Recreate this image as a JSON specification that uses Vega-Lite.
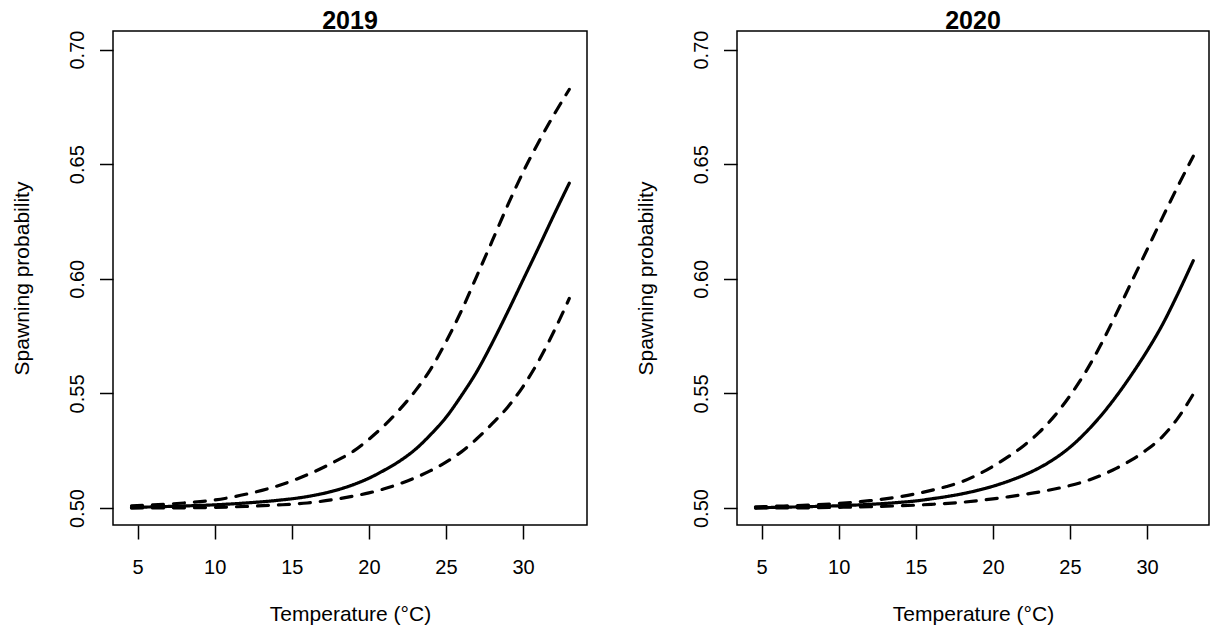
{
  "$schema": "https://vega.github.io/schema/vega-lite/v6.json",
  "background": "white",
  "autosize": {"type": "pad"},
  "padding": {"left": 10, "top": 8, "right": 0, "bottom": 0},
  "bounds": "flush",
  "spacing": 150,
  "config": {
    "font": "Liberation Sans",
    "view": {"stroke": "black", "strokeWidth": 1.5},
    "axis": {
      "grid": false,
      "domain": false,
      "tickColor": "black",
      "tickWidth": 1.5,
      "labelColor": "black",
      "titleColor": "black",
      "labelFont": "Liberation Sans",
      "titleFont": "Liberation Sans",
      "labelFontSize": 20,
      "titleFontSize": 21,
      "titleFontWeight": "normal"
    }
  },
  "datasets": {
    "y2019": [
      {"curve": "fit", "temp": 4.6, "prob": 0.5003},
      {"curve": "fit", "temp": 6, "prob": 0.5005},
      {"curve": "fit", "temp": 8, "prob": 0.5009},
      {"curve": "fit", "temp": 10, "prob": 0.5014},
      {"curve": "fit", "temp": 12, "prob": 0.5022},
      {"curve": "fit", "temp": 14, "prob": 0.5033},
      {"curve": "fit", "temp": 16, "prob": 0.505},
      {"curve": "fit", "temp": 18, "prob": 0.508},
      {"curve": "fit", "temp": 19, "prob": 0.5102},
      {"curve": "fit", "temp": 20, "prob": 0.513},
      {"curve": "fit", "temp": 21, "prob": 0.5165},
      {"curve": "fit", "temp": 22, "prob": 0.5205},
      {"curve": "fit", "temp": 23, "prob": 0.5255},
      {"curve": "fit", "temp": 24, "prob": 0.532},
      {"curve": "fit", "temp": 25, "prob": 0.5395},
      {"curve": "fit", "temp": 26, "prob": 0.549},
      {"curve": "fit", "temp": 27, "prob": 0.5595},
      {"curve": "fit", "temp": 28, "prob": 0.572},
      {"curve": "fit", "temp": 29, "prob": 0.5855},
      {"curve": "fit", "temp": 30, "prob": 0.5995},
      {"curve": "fit", "temp": 31, "prob": 0.6135},
      {"curve": "fit", "temp": 32, "prob": 0.6278},
      {"curve": "fit", "temp": 33, "prob": 0.6417},
      {"curve": "upper", "temp": 4.6, "prob": 0.501},
      {"curve": "upper", "temp": 6, "prob": 0.5014},
      {"curve": "upper", "temp": 8, "prob": 0.5022},
      {"curve": "upper", "temp": 10, "prob": 0.5035},
      {"curve": "upper", "temp": 12, "prob": 0.506},
      {"curve": "upper", "temp": 14, "prob": 0.5095},
      {"curve": "upper", "temp": 16, "prob": 0.5145},
      {"curve": "upper", "temp": 18, "prob": 0.521},
      {"curve": "upper", "temp": 19, "prob": 0.5248},
      {"curve": "upper", "temp": 20, "prob": 0.53},
      {"curve": "upper", "temp": 21, "prob": 0.536},
      {"curve": "upper", "temp": 22, "prob": 0.543},
      {"curve": "upper", "temp": 23, "prob": 0.551},
      {"curve": "upper", "temp": 24, "prob": 0.5605},
      {"curve": "upper", "temp": 25, "prob": 0.5725},
      {"curve": "upper", "temp": 26, "prob": 0.586},
      {"curve": "upper", "temp": 27, "prob": 0.6012},
      {"curve": "upper", "temp": 28, "prob": 0.6165},
      {"curve": "upper", "temp": 29, "prob": 0.632},
      {"curve": "upper", "temp": 30, "prob": 0.6465},
      {"curve": "upper", "temp": 31, "prob": 0.6595},
      {"curve": "upper", "temp": 32, "prob": 0.6715},
      {"curve": "upper", "temp": 33, "prob": 0.6826},
      {"curve": "lower", "temp": 4.6, "prob": 0.5},
      {"curve": "lower", "temp": 8, "prob": 0.5001},
      {"curve": "lower", "temp": 10, "prob": 0.5003},
      {"curve": "lower", "temp": 12, "prob": 0.5007},
      {"curve": "lower", "temp": 14, "prob": 0.5013},
      {"curve": "lower", "temp": 16, "prob": 0.5022},
      {"curve": "lower", "temp": 18, "prob": 0.504},
      {"curve": "lower", "temp": 19, "prob": 0.5052},
      {"curve": "lower", "temp": 20, "prob": 0.5066},
      {"curve": "lower", "temp": 21, "prob": 0.5084},
      {"curve": "lower", "temp": 22, "prob": 0.5106},
      {"curve": "lower", "temp": 23, "prob": 0.5132},
      {"curve": "lower", "temp": 24, "prob": 0.5163},
      {"curve": "lower", "temp": 25, "prob": 0.52},
      {"curve": "lower", "temp": 26, "prob": 0.5245},
      {"curve": "lower", "temp": 27, "prob": 0.5302},
      {"curve": "lower", "temp": 28, "prob": 0.5368},
      {"curve": "lower", "temp": 29, "prob": 0.544},
      {"curve": "lower", "temp": 30, "prob": 0.553},
      {"curve": "lower", "temp": 31, "prob": 0.564},
      {"curve": "lower", "temp": 32, "prob": 0.577},
      {"curve": "lower", "temp": 33, "prob": 0.5914}
    ],
    "y2020": [
      {"curve": "fit", "temp": 4.6, "prob": 0.5001},
      {"curve": "fit", "temp": 6, "prob": 0.5003},
      {"curve": "fit", "temp": 8, "prob": 0.5006},
      {"curve": "fit", "temp": 10, "prob": 0.501},
      {"curve": "fit", "temp": 12, "prob": 0.5016},
      {"curve": "fit", "temp": 14, "prob": 0.5025},
      {"curve": "fit", "temp": 15, "prob": 0.5031},
      {"curve": "fit", "temp": 16, "prob": 0.504},
      {"curve": "fit", "temp": 17, "prob": 0.505},
      {"curve": "fit", "temp": 18, "prob": 0.5062},
      {"curve": "fit", "temp": 19, "prob": 0.5077},
      {"curve": "fit", "temp": 20, "prob": 0.5095},
      {"curve": "fit", "temp": 21, "prob": 0.5117},
      {"curve": "fit", "temp": 22, "prob": 0.5143},
      {"curve": "fit", "temp": 23, "prob": 0.5175},
      {"curve": "fit", "temp": 24, "prob": 0.5215},
      {"curve": "fit", "temp": 25, "prob": 0.5265},
      {"curve": "fit", "temp": 26, "prob": 0.5328},
      {"curve": "fit", "temp": 27, "prob": 0.5402},
      {"curve": "fit", "temp": 28, "prob": 0.5487},
      {"curve": "fit", "temp": 29, "prob": 0.5582},
      {"curve": "fit", "temp": 30, "prob": 0.5685},
      {"curve": "fit", "temp": 31, "prob": 0.58},
      {"curve": "fit", "temp": 32, "prob": 0.5935},
      {"curve": "fit", "temp": 33, "prob": 0.6079},
      {"curve": "upper", "temp": 4.6, "prob": 0.5005},
      {"curve": "upper", "temp": 6, "prob": 0.5008},
      {"curve": "upper", "temp": 8, "prob": 0.5013},
      {"curve": "upper", "temp": 10, "prob": 0.502},
      {"curve": "upper", "temp": 12, "prob": 0.5032},
      {"curve": "upper", "temp": 13, "prob": 0.504},
      {"curve": "upper", "temp": 14, "prob": 0.505},
      {"curve": "upper", "temp": 15, "prob": 0.5062},
      {"curve": "upper", "temp": 16, "prob": 0.5077},
      {"curve": "upper", "temp": 17, "prob": 0.5094},
      {"curve": "upper", "temp": 18, "prob": 0.5115},
      {"curve": "upper", "temp": 19, "prob": 0.5145},
      {"curve": "upper", "temp": 20, "prob": 0.5182},
      {"curve": "upper", "temp": 21, "prob": 0.5224},
      {"curve": "upper", "temp": 22, "prob": 0.5272},
      {"curve": "upper", "temp": 23, "prob": 0.533},
      {"curve": "upper", "temp": 24, "prob": 0.5402},
      {"curve": "upper", "temp": 25, "prob": 0.549},
      {"curve": "upper", "temp": 26, "prob": 0.5592},
      {"curve": "upper", "temp": 27, "prob": 0.5712},
      {"curve": "upper", "temp": 28, "prob": 0.5847},
      {"curve": "upper", "temp": 29, "prob": 0.5987},
      {"curve": "upper", "temp": 30, "prob": 0.6127},
      {"curve": "upper", "temp": 31, "prob": 0.6267},
      {"curve": "upper", "temp": 32, "prob": 0.6404},
      {"curve": "upper", "temp": 33, "prob": 0.6535},
      {"curve": "lower", "temp": 4.6, "prob": 0.5},
      {"curve": "lower", "temp": 8, "prob": 0.5001},
      {"curve": "lower", "temp": 10, "prob": 0.5003},
      {"curve": "lower", "temp": 12, "prob": 0.5006},
      {"curve": "lower", "temp": 14, "prob": 0.501},
      {"curve": "lower", "temp": 16, "prob": 0.5016},
      {"curve": "lower", "temp": 18, "prob": 0.5025},
      {"curve": "lower", "temp": 19, "prob": 0.5032},
      {"curve": "lower", "temp": 20, "prob": 0.504},
      {"curve": "lower", "temp": 21, "prob": 0.5049},
      {"curve": "lower", "temp": 22, "prob": 0.5059},
      {"curve": "lower", "temp": 23, "prob": 0.507},
      {"curve": "lower", "temp": 24, "prob": 0.5083},
      {"curve": "lower", "temp": 25, "prob": 0.5098},
      {"curve": "lower", "temp": 26, "prob": 0.5117},
      {"curve": "lower", "temp": 27, "prob": 0.5142},
      {"curve": "lower", "temp": 28, "prob": 0.5173},
      {"curve": "lower", "temp": 29, "prob": 0.521},
      {"curve": "lower", "temp": 30, "prob": 0.5255},
      {"curve": "lower", "temp": 31, "prob": 0.5312},
      {"curve": "lower", "temp": 32, "prob": 0.5392},
      {"curve": "lower", "temp": 33, "prob": 0.5497}
    ]
  },
  "hconcat": [
    {
      "width": 474,
      "height": 494,
      "title": {"text": "2019", "fontSize": 25, "fontWeight": "bold", "font": "Liberation Sans", "color": "black", "anchor": "middle", "frame": "group", "baseline": "alphabetic", "offset": -24},
      "data": {"name": "y2019"},
      "mark": {"type": "line", "strokeWidth": 3.2, "color": "black", "strokeCap": "round", "clip": true, "interpolate": "monotone"},
      "encoding": {
        "x": {"field": "temp", "type": "quantitative", "scale": {"domain": [3.4, 34.15], "nice": false, "zero": false},
              "axis": {"values": [5, 10, 15, 20, 25, 30], "title": "Temperature (°C)", "tickSize": 14, "labelPadding": 18, "titlePadding": 26, "labelFlush": false}},
        "y": {"field": "prob", "type": "quantitative", "scale": {"domain": [0.4926, 0.7081], "nice": false, "zero": false},
              "axis": {"values": [0.5, 0.55, 0.6, 0.65, 0.7], "format": ".2f", "title": "Spawning probability", "labelAngle": -90, "labelAlign": "center", "labelBaseline": "bottom", "tickSize": 13.5, "labelPadding": 12.5, "titlePadding": 35, "labelFlush": false}},
        "strokeDash": {"field": "curve", "type": "nominal", "scale": {"domain": ["fit", "lower", "upper"], "range": [[1, 0], [11, 10], [11, 10]]}, "legend": null}
      }
    },
    {
      "width": 472,
      "height": 494,
      "title": {"text": "2020", "fontSize": 25, "fontWeight": "bold", "font": "Liberation Sans", "color": "black", "anchor": "middle", "frame": "group", "baseline": "alphabetic", "offset": -24},
      "data": {"name": "y2020"},
      "mark": {"type": "line", "strokeWidth": 3.2, "color": "black", "strokeCap": "round", "clip": true, "interpolate": "monotone"},
      "encoding": {
        "x": {"field": "temp", "type": "quantitative", "scale": {"domain": [3.4, 34.02], "nice": false, "zero": false},
              "axis": {"values": [5, 10, 15, 20, 25, 30], "title": "Temperature (°C)", "tickSize": 14, "labelPadding": 18, "titlePadding": 26, "labelFlush": false}},
        "y": {"field": "prob", "type": "quantitative", "scale": {"domain": [0.4926, 0.7081], "nice": false, "zero": false},
              "axis": {"values": [0.5, 0.55, 0.6, 0.65, 0.7], "format": ".2f", "title": "Spawning probability", "labelAngle": -90, "labelAlign": "center", "labelBaseline": "bottom", "tickSize": 13.5, "labelPadding": 12.5, "titlePadding": 35, "labelFlush": false}},
        "strokeDash": {"field": "curve", "type": "nominal", "scale": {"domain": ["fit", "lower", "upper"], "range": [[1, 0], [11, 10], [11, 10]]}, "legend": null}
      }
    }
  ]
}
